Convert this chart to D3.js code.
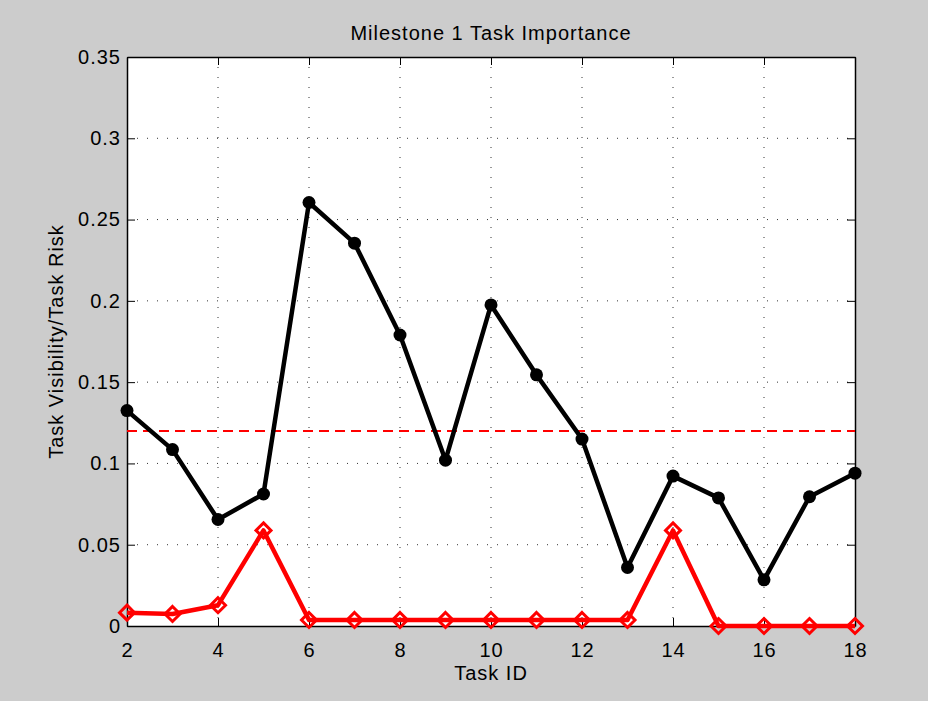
<!DOCTYPE html>
<html>
<head>
<meta charset="utf-8">
<script src="https://cdn.jsdelivr.net/npm/d3@7"></script>
<style>
  body { margin: 0; background: #cccccc; }
  text { font-family: "Liberation Sans", Arial, sans-serif; fill: #000; }
</style>
</head>
<body>
<div id="chart"></div>
<script>
// data
var taskIds = [2, 3, 4, 5, 6, 7, 8, 9, 10, 11, 12, 13, 14, 15, 16, 17, 18];
var visibility = [0.1325, 0.1085, 0.0655, 0.0812, 0.2605, 0.2355, 0.179, 0.102, 0.1975, 0.1545, 0.115, 0.036, 0.0922, 0.0788, 0.0284, 0.0795, 0.094];
var risk = [0.0082, 0.0074, 0.0128, 0.0588, 0.0037, 0.0037, 0.0037, 0.0037, 0.0037, 0.0037, 0.0037, 0.0037, 0.0588, 0, 0, 0, 0];
var threshold = 0.12;
var xTicks = [2, 4, 6, 8, 10, 12, 14, 16, 18];
var yTicks = [0, 0.05, 0.1, 0.15, 0.2, 0.25, 0.3, 0.35];

var width = 928, height = 701;
var margin = {top: 57, right: 73, bottom: 75, left: 127};
var w = width - margin.left - margin.right,
    h = height - margin.top - margin.bottom;

var svg = d3.select("#chart").append("svg")
    .attr("width", width)
    .attr("height", height);

svg.append("rect").attr("width", width).attr("height", height).attr("fill", "#cccccc");

var g = svg.append("g")
    .attr("transform", "translate(" + margin.left + "," + margin.top + ")");

var x = d3.scaleLinear().domain([2, 18]).range([0, w]);
var y = d3.scaleLinear().domain([0, 0.35]).range([h, 0]);

g.append("rect").attr("width", w).attr("height", h).attr("fill", "#fff");

// dotted grid
g.selectAll(".gx").data(xTicks.slice(1, -1)).enter().append("line")
    .attr("x1", function(d) { return x(d); }).attr("x2", function(d) { return x(d); })
    .attr("y1", 0).attr("y2", h)
    .attr("stroke", "#333").attr("stroke-width", 1).attr("stroke-dasharray", "1,9");
g.selectAll(".gy").data(yTicks.slice(1, -1)).enter().append("line")
    .attr("y1", function(d) { return y(d); }).attr("y2", function(d) { return y(d); })
    .attr("x1", 0).attr("x2", w)
    .attr("stroke", "#333").attr("stroke-width", 1).attr("stroke-dasharray", "1,9");

// axes with inward ticks
var xAxis = g.append("g").attr("transform", "translate(0," + h + ")")
    .call(d3.axisBottom(x).tickValues(xTicks).tickSizeInner(-8).tickSizeOuter(0).tickPadding(17).tickFormat(d3.format("d")));
var xTop = g.append("g")
    .call(d3.axisTop(x).tickValues(xTicks).tickSizeInner(-8).tickSizeOuter(0).tickFormat(""));
var yAxis = g.append("g")
    .call(d3.axisLeft(y).tickValues(yTicks).tickSizeInner(-8).tickSizeOuter(0).tickPadding(6).tickFormat(function(d) { return d === 0 ? "0" : String(+d.toFixed(2)); }));
var yRight = g.append("g").attr("transform", "translate(" + w + ",0)")
    .call(d3.axisRight(y).tickValues(yTicks).tickSizeInner(-8).tickSizeOuter(0).tickFormat(""));

[xAxis, xTop, yAxis, yRight].forEach(function(a) {
  a.select(".domain").attr("stroke", "#000").attr("stroke-width", 1.5);
  a.selectAll(".tick line").attr("stroke", "#000");
  a.selectAll("text").style("font-family", "Liberation Sans, Arial, sans-serif")
    .style("font-size", "20px").style("letter-spacing", "1px").attr("fill", "#000");
});

// threshold
g.append("line")
    .attr("x1", 0).attr("x2", w)
    .attr("y1", y(threshold)).attr("y2", y(threshold))
    .attr("stroke", "#ff0000").attr("stroke-width", 2).attr("stroke-dasharray", "10,6");

var line = d3.line()
    .x(function(d, i) { return x(taskIds[i]); })
    .y(function(d) { return y(d); });

// risk series
g.append("path").datum(risk).attr("d", line)
    .attr("fill", "none").attr("stroke", "#ff0000").attr("stroke-width", 4.5).attr("stroke-linejoin", "round");
g.selectAll(".dia").data(risk).enter().append("path")
    .attr("d", "M0,-7.5L7.5,0L0,7.5L-7.5,0Z")
    .attr("transform", function(d, i) { return "translate(" + x(taskIds[i]) + "," + y(d) + ")"; })
    .attr("fill", "none").attr("stroke", "#ff0000").attr("stroke-width", 3);

// visibility series
g.append("path").datum(visibility).attr("d", line)
    .attr("fill", "none").attr("stroke", "#000").attr("stroke-width", 4.5).attr("stroke-linejoin", "round");
g.selectAll(".dot").data(visibility).enter().append("circle")
    .attr("cx", function(d, i) { return x(taskIds[i]); })
    .attr("cy", function(d) { return y(d); })
    .attr("r", 6.5).attr("fill", "#000");

// labels
svg.selectAll(".lbl").data([
    {t: "Milestone 1 Task Importance", tr: "translate(" + (margin.left + w / 2) + ",40)"},
    {t: "Task ID", tr: "translate(" + (margin.left + w / 2) + ",680)"},
    {t: "Task Visibility/Task Risk", tr: "translate(63," + (margin.top + h / 2) + ") rotate(-90)"}
  ]).enter().append("text")
    .attr("transform", function(d) { return d.tr; })
    .attr("text-anchor", "middle")
    .style("font-size", "20px").style("letter-spacing", "1px")
    .text(function(d) { return d.t; });
</script>
</body>
</html>
